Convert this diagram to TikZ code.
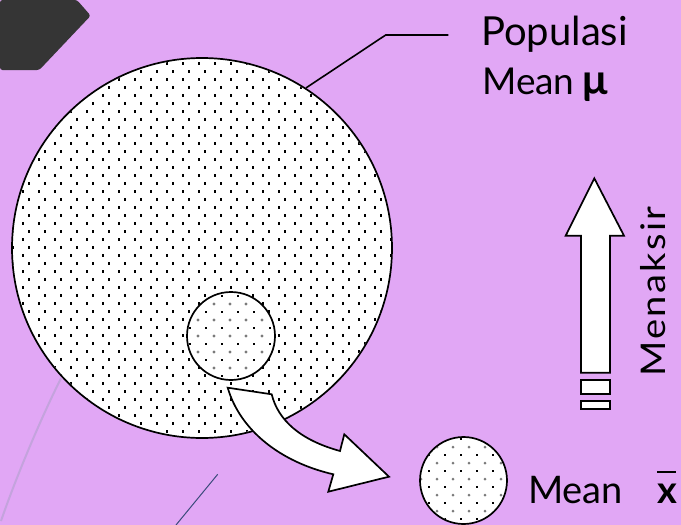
\documentclass[tikz,border=0pt]{standalone}
\usepackage{fontspec}
\setmainfont{Lato}
\newfontfamily\spacedface[FakeStretch=1.12,LetterSpace=7]{Lato}
\definecolor{bg}{HTML}{E1A7F5}
\definecolor{darkshape}{HTML}{353535}
\definecolor{palestroke}{HTML}{C4A3DD}
\definecolor{inkblue}{HTML}{3B4B7B}
\definecolor{dotgray}{HTML}{7A7A7A}
\begin{document}
\begin{tikzpicture}[x=1pt,y=-1pt,
  outline/.style={draw=black, line width=1.7pt},
  blockarrow/.style={fill=white, draw=black, line width=1.7pt, line join=miter},
  lbl/.style={inner sep=0pt, text=black},
  bigdot/.style={fill=black},
  graydot/.style={fill=dotgray},
]
\fill[bg] (0,0) rectangle (681,525);
\useasboundingbox (0,0) rectangle (681,525);

% top-left dark tab
\fill[darkshape, rounded corners=2.5pt] (0,0) -- (77,0) -- (90.7,15.7) -- (39.3,70) -- (0,70) -- cycle;

% background strokes
\draw[palestroke, line width=2pt] (61,378.3) .. controls (40,420) and (15,480) .. (1,521);
\draw[inkblue, line width=1pt] (217.7,474.3) -- (176,525);

% population circle
\fill[white] (202,248) circle (190);
\begin{scope}
  \clip (202,248) circle (189);
  \foreach \yy in {7.3,23.3,...,440} {
    \foreach \xx in {13,29,...,400} {
      \fill[bigdot] (\xx-1.2,\yy-1.2) rectangle (\xx+1.2,\yy+1.2);
    }
  }
  \foreach \yy in {15.3,31.3,...,440} {
    \foreach \xx in {6.7,22.7,...,400} {
      \fill[bigdot] (\xx-1.2,\yy-1.2) rectangle (\xx+1.2,\yy+1.2);
    }
  }
\end{scope}
\node[circle, outline, minimum size=380pt, inner sep=0pt] (pop) at (202,248) {};

% sample circle inside population
\fill[white] (231,336) circle (44);
\begin{scope}
  \clip (231,336) circle (43);
  \foreach \yy in {288,304,...,384} {
    \foreach \xx in {182,198,...,280} {
      \fill[graydot] (\xx,\yy) circle (1.7);
      \fill[bigdot] (\xx+8-0.9,\yy+8-0.7) rectangle (\xx+8+0.9,\yy+8+0.7);
    }
  }
\end{scope}
\node[circle, outline, minimum size=88pt, inner sep=0pt] (inner) at (231,336) {};

% sample circle
\fill[white] (463.5,480.5) circle (43.5);
\begin{scope}
  \clip (463.5,480.5) circle (42.5);
  \foreach \yy in {431,447,...,530} {
    \foreach \xx in {405,421,...,512} {
      \fill[graydot] (\xx,\yy) circle (1.5);
      \fill[bigdot] (\xx+8-0.9,\yy+8-0.7) rectangle (\xx+8+0.9,\yy+8+0.7);
    }
  }
\end{scope}
\node[circle, outline, minimum size=87pt, inner sep=0pt] (sample) at (463.5,480.5) {};

% curved block arrow from inner circle to sample
\draw[blockarrow] (227.7,387.7) -- (271.7,394.3)
  .. controls (278,420) and (300,440) .. (340,451)
  -- (344.3,434.3) -- (389,476.7) -- (328.3,491.7) -- (333.3,474.3)
  .. controls (280,462) and (240,430) .. (227.7,387.7) -- cycle;

% vertical estimate arrow
\draw[blockarrow] (581,372.7) -- (581,235.7) -- (565.7,235.7) -- (594.3,178.3)
  -- (624,235.7) -- (610,235.7) -- (610,372.7) -- cycle;
\draw[blockarrow] (581,380) rectangle (610,394.3);
\draw[blockarrow] (581,401) rectangle (610,409);

% leader line
\coordinate (lead) at (448.3,35);
\draw[black, line width=1.6pt] (pop.57) -- (385.7,35) -- (lead);

% texts
\node[lbl, anchor=base west, font=\fontsize{40}{48}\selectfont] (popl) at (481,45) {Populasi};
\node[lbl, anchor=base west, font=\fontsize{37}{44}\selectfont] (meanmu) at (482,94) {Mean\hspace{8pt}\textbf{\fontsize{42}{48}\selectfont μ}};
\node[lbl, anchor=base west, font=\fontsize{38}{46}\selectfont] (meanx) at (528,503) {Mean};
\node[lbl, anchor=base west, font=\fontsize{38}{46}\selectfont] (xbar) at (657,503) {\rlap{\raisebox{30pt}{\rule{19pt}{2pt}}}\textbf{x}};
\node[lbl, rotate=90, anchor=base west, font=\spacedface\fontsize{34}{40}\selectfont] (menaksir) at (665,377) {Menaksir};
\end{tikzpicture}
\end{document}
